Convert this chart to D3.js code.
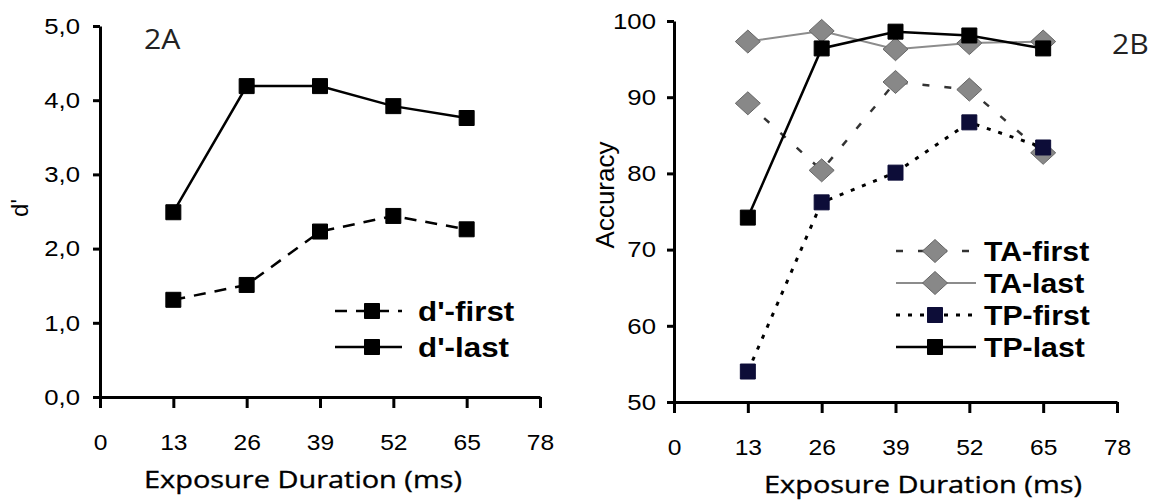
<!DOCTYPE html>
<html>
<head>
<meta charset="utf-8">
<script src="https://cdn.jsdelivr.net/npm/d3@7"></script>
<style>
  html, body { margin: 0; padding: 0; background: #fff; }
  svg { display: block; }
  .tick text { font-family: "Liberation Sans", Arial, sans-serif; fill: #000; }
</style>
</head>
<body>
<div id="chart"></div>
<script>
// exposure durations (ms)
var durations = [13, 26, 39, 52, 65];
var xTicks = [0, 13, 26, 39, 52, 65, 78];

// panel 2A: d'
var dFirst = [1.31, 1.51, 2.23, 2.44, 2.26];
var dLast = [2.49, 4.19, 4.19, 3.92, 3.76];
var dTicks = [0, 1, 2, 3, 4, 5];

// panel 2B: accuracy
var taFirst = [89.2, 80.4, 92.0, 91.0, 82.7];
var taLast = [97.3, 98.7, 96.3, 97.1, 97.3];
var tpFirst = [54.0, 76.2, 80.1, 86.7, 83.4];
var tpLast = [74.2, 96.4, 98.6, 98.1, 96.4];
var accTicks = [50, 60, 70, 80, 90, 100];

var leftNames = ["d'-first", "d'-last"];
var rightNames = ["TA-first", "TA-last", "TP-first", "TP-last"];

var W = 1157, H = 500, K = 1.12; // K: horizontal text stretch of the source image

var svg = d3.select("#chart").append("svg")
    .attr("width", W)
    .attr("height", H);

var commaFmt = d3.formatLocale({decimal: ",", thousands: ".", grouping: [3], currency: ["", ""]}).format(".1f");

var square = "M-7.5,-7.5H7.5V7.5H-7.5Z",
    diamond = "M0,-11.5L12.5,0L0,11.5L-12.5,0Z";

function widen(sel) {
    sel.each(function() {
        var t = d3.select(this);
        var x = +t.attr("x") || 0;
        t.attr("x", x / K).attr("transform", "scale(" + K + ",1)");
    });
}

function styleAxis(g) {
    g.select(".domain").attr("stroke", "#000").attr("stroke-width", 3);
    g.selectAll(".tick line").attr("stroke", "#000").attr("stroke-width", 3);
}

function drawSeries(g, x, y, vals, s) {
    var line = d3.line()
        .x(function(d, i) { return x(durations[i]); })
        .y(function(d) { return y(d); });

    g.append("path")
        .datum(vals)
        .attr("fill", "none")
        .attr("stroke", s.stroke)
        .attr("stroke-width", s.width)
        .attr("stroke-dasharray", s.dash)
        .attr("d", line);

    g.selectAll(null)
        .data(vals)
        .enter().append("path")
        .attr("d", s.shape)
        .attr("fill", s.fill)
        .attr("stroke", s.mstroke)
        .attr("stroke-width", 1)
        .attr("transform", function(d, i) { return "translate(" + x(durations[i]) + "," + y(d) + ")"; });
}

function legendRow(g, name, s, x0, x1, xm, xt, yy, size) {
    g.append("line")
        .attr("x1", x0).attr("x2", x1)
        .attr("y1", yy).attr("y2", yy)
        .attr("stroke", s.stroke)
        .attr("stroke-width", s.width)
        .attr("stroke-dasharray", s.dash);
    g.append("path")
        .attr("d", s.shape)
        .attr("fill", s.fill)
        .attr("stroke", s.mstroke)
        .attr("transform", "translate(" + xm + "," + yy + ")");
    g.append("text")
        .attr("x", xt)
        .attr("y", yy)
        .attr("dy", "0.36em")
        .attr("font-family", "'Liberation Sans', Arial, sans-serif")
        .attr("font-weight", "bold")
        .attr("font-size", size)
        .attr("fill", "#000")
        .text(name)
        .call(widen);
}

function xTitle(g, cx, y) {
    g.append("text")
        .attr("x", cx).attr("y", y)
        .attr("text-anchor", "middle")
        .attr("font-family", "'Open Sans', sans-serif")
        .attr("font-size", 24)
        .attr("fill", "#000")
        .attr("stroke", "#000")
        .attr("stroke-width", 0.35)
        .attr("textLength", 318)
        .attr("lengthAdjust", "spacingAndGlyphs")
        .text("Exposure Duration (ms)");
}

// ---------- panel 2A ----------
var xA = d3.scaleLinear().domain([0, 78]).range([100, 540]),
    yA = d3.scaleLinear().domain([0, 5]).range([397, 26]);

var gA = svg.append("g");

gA.append("g")
    .attr("transform", "translate(0," + yA(0) + ")")
    .call(d3.axisBottom(xA).tickValues(xTicks).tickSize(11).tickSizeOuter(0).tickPadding(26))
    .call(styleAxis)
    .call(function(g) { g.selectAll(".tick text").attr("font-size", 22).call(widen); });

gA.append("g")
    .attr("transform", "translate(" + xA(0) + ",0)")
    .call(d3.axisLeft(yA).tickValues(dTicks).tickFormat(commaFmt).tickSize(7).tickSizeOuter(0).tickPadding(13))
    .call(styleAxis)
    .call(function(g) { g.selectAll(".tick text").attr("font-size", 23).call(widen); });

var dStyles = [
    {stroke: "#000", width: 2.5, dash: "12,9", shape: square, fill: "#000", mstroke: "#000"},
    {stroke: "#000", width: 2.5, dash: null, shape: square, fill: "#000", mstroke: "#000"}
];

drawSeries(gA, xA, yA, dFirst, dStyles[0]);
drawSeries(gA, xA, yA, dLast, dStyles[1]);

leftNames.forEach(function(n, i) {
    legendRow(gA, n, dStyles[i], 335, 402, 372, 418, 311 + i * 36, 28);
});

gA.append("text")
    .attr("transform", "translate(28,208) rotate(-90)")
    .attr("text-anchor", "middle")
    .attr("font-family", "'Liberation Sans', Arial, sans-serif")
    .attr("font-size", 24)
    .text("d'");

gA.append("text")
    .attr("x", 144).attr("y", 49)
    .attr("font-family", "'Open Sans', sans-serif")
    .attr("font-size", 27)
    .attr("fill", "#222")
    .text("2A")
    .call(widen);

xTitle(gA, 303, 488);

// ---------- panel 2B ----------
var xB = d3.scaleLinear().domain([0, 78]).range([674, 1117]),
    yB = d3.scaleLinear().domain([50, 100]).range([402, 21]);

var gB = svg.append("g");

gB.append("g")
    .attr("transform", "translate(0," + yB(50) + ")")
    .call(d3.axisBottom(xB).tickValues(xTicks).tickSize(11).tickSizeOuter(0).tickPadding(26))
    .call(styleAxis)
    .call(function(g) { g.selectAll(".tick text").attr("font-size", 22).call(widen); });

gB.append("g")
    .attr("transform", "translate(" + xB(0) + ",0)")
    .call(d3.axisLeft(yB).tickValues(accTicks).tickSize(7).tickSizeOuter(0).tickPadding(11))
    .call(styleAxis)
    .call(function(g) { g.selectAll(".tick text").attr("font-size", 23).call(widen); });

var accStyles = [
    {stroke: "#333", width: 2.5, dash: "7,15", shape: diamond, fill: "#888", mstroke: "#666"},
    {stroke: "#8c8c8c", width: 2, dash: null, shape: diamond, fill: "#888", mstroke: "#666"},
    {stroke: "#000", width: 3, dash: "4,8", shape: square, fill: "#0d0d38", mstroke: "#0d0d38"},
    {stroke: "#000", width: 2.5, dash: null, shape: square, fill: "#000", mstroke: "#000"}
];

[taFirst, taLast, tpFirst, tpLast].forEach(function(v, i) {
    drawSeries(gB, xB, yB, v, accStyles[i]);
});

rightNames.forEach(function(n, i) {
    legendRow(gB, n, accStyles[i], 896, 976, 935, 984, 251 + i * 32, 27);
});

gB.append("text")
    .attr("transform", "translate(614,195) rotate(-90)")
    .attr("text-anchor", "middle")
    .attr("font-family", "'Liberation Sans', Arial, sans-serif")
    .attr("font-size", 26)
    .text("Accuracy");

gB.append("text")
    .attr("x", 1112).attr("y", 54)
    .attr("font-family", "'Open Sans', sans-serif")
    .attr("font-size", 27)
    .attr("fill", "#222")
    .text("2B")
    .call(widen);

xTitle(gB, 923, 493);
</script>
</body>
</html>
